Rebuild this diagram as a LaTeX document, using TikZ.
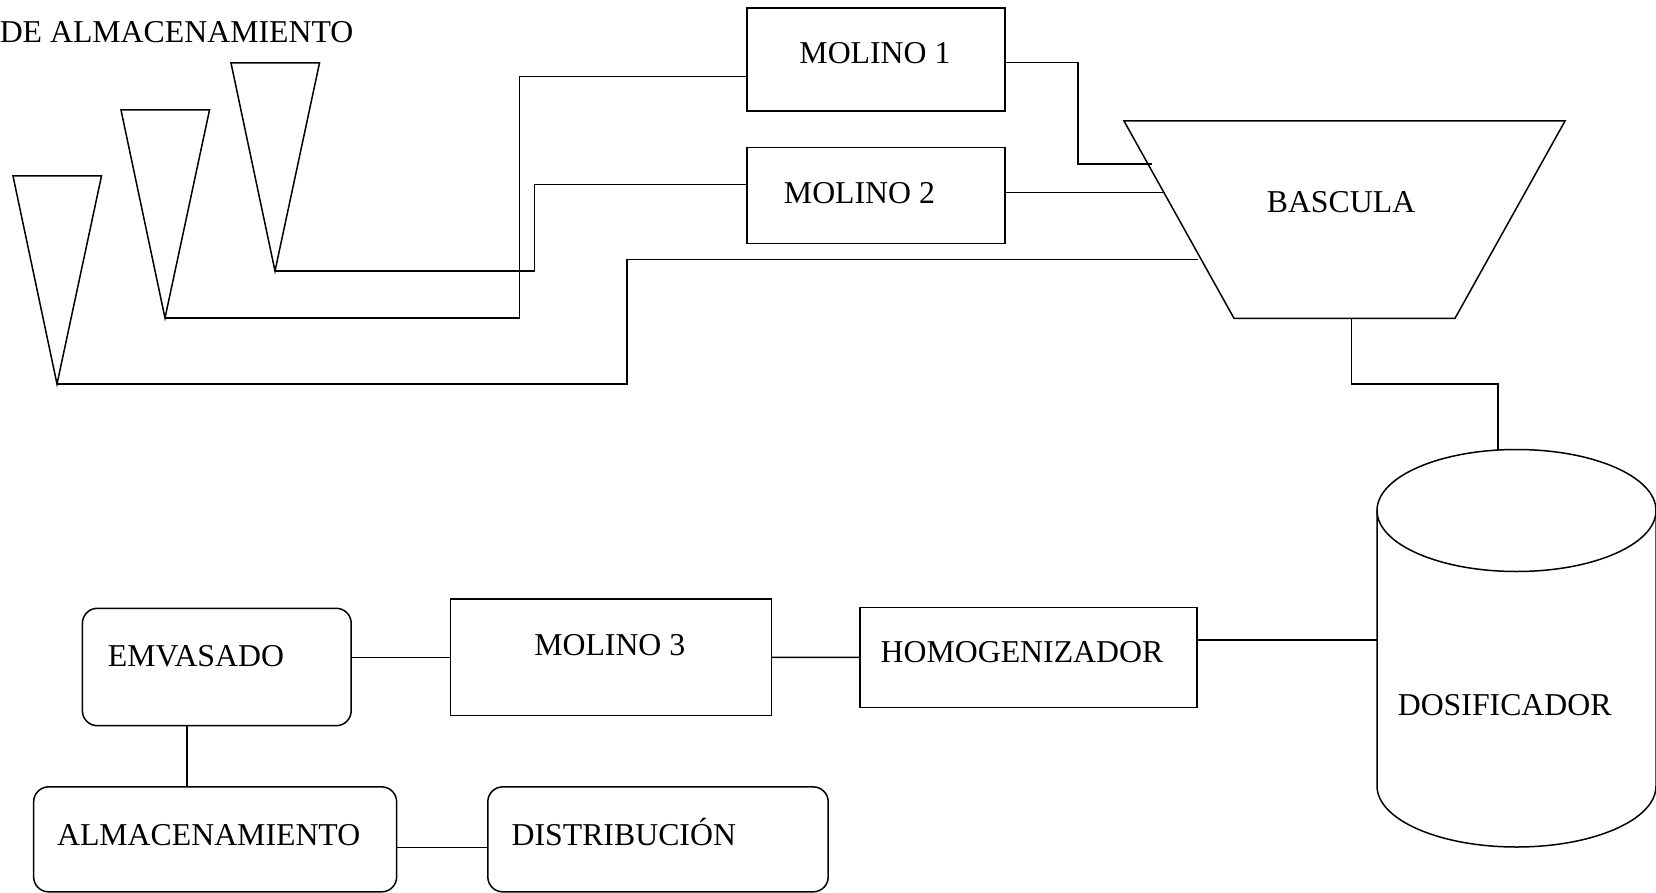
\documentclass[tikz,border=0pt]{standalone}
\usepackage{fontspec}
\setmainfont{Liberation Serif}

\tikzset{
  box/.style={draw,inner sep=0pt},
  rbox/.style={box,rounded corners=15pt},
  lbl/.style={inner sep=0pt,anchor=base},
}

\begin{document}
\begin{tikzpicture}[x=1pt,y=-1pt,line width=1.5pt,font=\fontsize{31.8pt}{38pt}\selectfont]
\useasboundingbox (0,0) rectangle (1656,893);

% silos
\coordinate (s1) at (57,384);
\coordinate (s2) at (165,318);
\coordinate (s3) at (275,271);
\foreach \s in {s1,s2,s3}
  \draw (\s) -- ++(-44,-208) -- ++(88.5,0) -- cycle;
\node[lbl,anchor=base west] (silos) at (-1,43) {DE ALMACENAMIENTO};

% molinos
\node[box,minimum width=258pt,minimum height=103pt] (m1) at (876,59.5) {};
\node[lbl] (m1t) at (875,64) {MOLINO 1};
\node[box,minimum width=258pt,minimum height=96pt] (m2) at (876,195.3) {};
\node[lbl] (m2t) at (859.5,203.3) {MOLINO 2};

% bascula
\coordinate (bnw) at (1124,121);
\coordinate (bne) at (1565,121);
\coordinate (bse) at (1455,318.3);
\coordinate (bsw) at (1234,318.3);
\draw (bnw) -- (bne) -- (bse) -- (bsw) -- cycle;
\node[lbl] (bas) at (1341,212.7) {BASCULA};
\coordinate (b1) at (1152,164);
\coordinate (b2) at (1165,192.7);
\coordinate (b3) at (1197.5,259.3);
\coordinate (b4) at (1351.4,318.3);

% dosificador
\draw (1516.5,510.5) ellipse[x radius=139.5pt,y radius=61pt];
\draw (1377,510.5) -- (1377,786) arc[start angle=180,end angle=360,x radius=139.5pt,y radius=61pt] -- (1656,510.5);
\node[lbl] (dos) at (1504.7,715) {DOSIFICADOR};
\coordinate (dtop) at (1498,450);
\coordinate (dleft) at (1377,640);

% linea inferior
\node[box,minimum width=337pt,minimum height=99.6pt] (hom) at (1028.4,657.5) {};
\node[lbl] (homt) at (1022,662.3) {HOMOGENIZADOR};
\node[box,minimum width=321pt,minimum height=116.7pt] (m3) at (610.85,657.35) {};
\node[lbl] (m3t) at (609.8,655) {MOLINO 3};
\node[rbox,minimum width=268.8pt,minimum height=117.4pt] (emv) at (216.8,667) {};
\node[lbl] (emvt) at (196,666.7) {EMVASADO};
\node[rbox,minimum width=363pt,minimum height=105pt] (alm) at (215.15,839.35) {};
\node[lbl] (almt) at (208.7,845) {ALMACENAMIENTO};
\node[rbox,minimum width=340.4pt,minimum height=105pt] (dis) at (658,839.35) {};
\node[lbl] (dist) at (623.8,845) {DISTRIBUCIÓN};

% conexiones
\draw (s3) -| (534.6,184.3) -- ([yshift=11pt]m2.west);
\draw (s2) -| (519.6,76.3) -- ([yshift=-16.8pt]m1.west);
\draw (s1) -| (626.8,259.3) -- (b3);
\draw ([yshift=-2.8pt]m1.east) -| (1078,164) -- (b1);
\draw ([yshift=2.6pt]m2.east) -- (b2);
\draw (b4) |- (1498,384) -- (dtop);
\draw (hom.east |- dleft) -- (dleft);
\draw (m3) -- (hom);
\draw (emv.east |- m3.west) -- (m3.west);
\draw ([xshift=-30pt]emv.south) -- ([xshift=-30pt]emv.south |- alm.north);
\draw ([yshift=-8pt]alm.east) -- ([yshift=-8pt]dis.west);
\end{tikzpicture}
\end{document}
